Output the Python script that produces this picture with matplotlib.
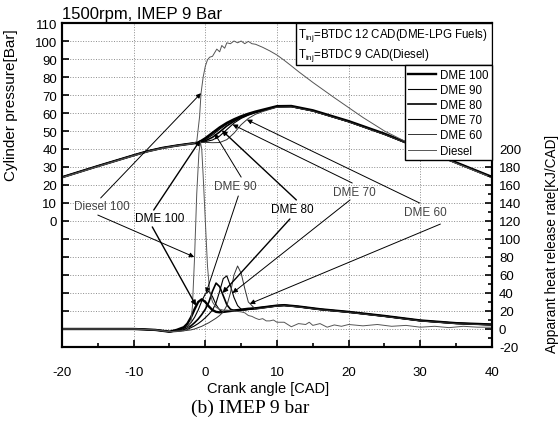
import matplotlib
matplotlib.use("Agg")
import matplotlib.pyplot as plt
from matplotlib.patches import Rectangle
from matplotlib.ticker import FuncFormatter, MultipleLocator

plt.rcParams['font.family'] = ['Liberation Sans', 'DejaVu Sans']
plt.rcParams['mathtext.fontset'] = 'custom'
plt.rcParams['mathtext.rm'] = 'Liberation Sans'
plt.rcParams['axes.unicode_minus'] = False

# ---- cylinder pressure [bar] ----
cad_p = [-20, -15, -10, -8, -6, -4, -2, -1, 0, 1, 2, 3, 4, 5, 6, 7, 8, 10, 12, 15, 20, 25, 30, 35, 40]
p_dme100 = [24.3, 30.5, 36.5, 38.8, 40.6, 41.9, 43.0, 43.5, 46.0, 49.0, 52.0, 54.5, 56.5, 58.2, 59.6, 60.8,
            61.8, 63.8, 63.9, 61.5, 55.5, 48.5, 40.5, 32.5, 24.5]
p_dme90 = [24.3, 30.5, 36.5, 38.8, 40.6, 41.9, 43.0, 43.5, 45.2, 47.8, 51.0, 53.8, 56.0, 57.8, 59.3, 60.5,
           61.5, 63.6, 63.7, 61.3, 55.3, 48.3, 40.4, 32.4, 24.4]
p_dme80 = [24.3, 30.5, 36.5, 38.8, 40.6, 41.9, 43.0, 43.4, 44.6, 46.5, 49.5, 52.8, 55.4, 57.5, 59.1, 60.4,
           61.4, 63.5, 63.6, 61.2, 55.2, 48.2, 40.3, 32.3, 24.3]
p_dme70 = [24.3, 30.5, 36.5, 38.8, 40.6, 41.9, 43.0, 43.4, 44.1, 45.0, 47.2, 50.8, 54.4, 57.0, 58.8, 60.2,
           61.3, 63.4, 63.5, 61.1, 55.1, 48.1, 40.2, 32.2, 24.2]
p_dme60 = [24.3, 30.5, 36.5, 38.8, 40.6, 41.9, 43.0, 43.4, 43.7, 43.5, 43.6, 45.2, 48.8, 53.5, 57.0, 59.3,
           60.8, 63.2, 63.4, 61.0, 55.0, 48.0, 40.1, 32.1, 24.1]

cad_pd = [-20, -15, -10, -8, -6, -4, -2, -1.2, -0.8, -0.6, -0.3, 0, 0.3, 0.6, 1, 1.3, 1.6, 2, 2.3, 2.7,
          3, 3.5, 4, 4.5, 5, 5.5, 6, 6.5, 7, 8, 9, 10, 11, 12, 13, 15, 18, 20, 22, 25, 28, 30, 35, 40]
p_diesel = [24.0, 30.2, 36.2, 38.5, 40.3, 41.7, 42.8, 44.0, 58.0, 71.0, 80.0, 86.0, 89.5, 91.0, 91.5, 93.5,
            95.5, 94.0, 97.5, 96.0, 99.0, 98.5, 100.0, 99.0, 100.0, 98.5, 99.8, 98.5, 98.2, 96.5, 94.5,
            92.2, 89.3, 86.2, 83.0, 77.0, 68.5, 63.0, 57.5, 50.0, 44.0, 40.0, 32.0, 24.0]

# ---- apparent heat release rate [kJ/CAD] ----
cad_h = [-20, -10, -7, -5, -4, -3, -2.5, -2, -1.5, -1, -0.5, 0, 0.5, 1, 1.5, 2, 2.5, 3, 3.5, 4, 4.5,
         5, 5.5, 6, 7, 8, 10, 11, 13, 16, 20, 25, 30, 35, 40]
h_dme100 = [0, 0, -1, -3, -1, 2, 6, 13, 22, 30, 33, 30, 25, 21, 19, 18.5, 19, 19.5, 20, 20.5, 21,
            21.5, 22, 22.5, 23, 24, 26, 26.5, 25, 22, 19, 14.5, 9.5, 6.5, 5]
h_dme90 = [0, 0, -1, -3, -2, 0.5, 3, 7, 13, 21, 31, 39, 42, 36, 27, 21, 19, 19.5, 20, 20.5, 21,
           21.5, 22, 22.5, 23, 24, 26, 26.5, 25, 22, 19, 14.5, 9.5, 6.5, 5]
h_dme80 = [0, 0, -1, -3, -2.5, -1, 1, 3.5, 7, 11, 16, 22, 30, 42, 51, 47, 37, 27, 22, 20.5, 20.5,
           21, 21.5, 22, 23, 24, 25.8, 26.3, 24.8, 21.8, 18.8, 14.3, 9.3, 6.3, 4.8]
h_dme70 = [0, 0, -1, -3, -2.5, -1.5, -0.5, 1.5, 3.5, 6, 9, 12.5, 16.5, 21, 29, 42, 56, 59, 48, 35, 26,
           22, 21, 21.5, 22.5, 23.5, 25.6, 26.1, 24.6, 21.6, 18.6, 14.1, 9.1, 6.1, 4.6]
h_dme60 = [0, 0, -1, -3, -2.5, -2, -1.5, -1, 0, 1.5, 3, 5, 7, 9.5, 12, 15, 19, 26, 40, 60, 70,
           62, 45, 30, 22, 23, 25.4, 25.9, 24.4, 21.4, 18.4, 13.9, 8.9, 5.9, 4.4]

cad_hd = [-20, -10, -7, -5, -4, -3, -2.5, -2, -1.8, -1.5, -1.2, -0.9, -0.7, -0.5, -0.3, 0, 0.3, 0.6, 1,
          1.5, 2, 2.5, 3, 4, 5, 5.5, 6, 6.5, 7, 7.5, 8, 8.5, 9, 9.5, 10, 11, 11.5, 12, 13, 14, 14.5,
          15, 16, 17, 18, 19, 20, 22, 24, 26, 28, 30, 32, 34, 36, 38, 40]
h_diesel = [0, 0, -1, -3, -2.5, -2, 0, 8, 25, 80, 150, 195, 208, 200, 170, 120, 70, 42, 30,
            24, 22, 21, 21, 20, 19, 18, 15, 14, 12, 10.5, 11.5, 9, 9, 10, 7.5, 7.5, 5, 2.5, 6, 5, 7.5,
            4, 6, 2, 4.5, 3, 5, 3.5, 5, 3, 4, 2, 3, 1.5, 3, 2, 2]

fuel_labels = ['DME 100', 'DME 90', 'DME 80', 'DME 70', 'DME 60', 'Diesel']
p_series = [p_dme100, p_dme90, p_dme80, p_dme70, p_dme60]
h_series = [h_dme100, h_dme90, h_dme80, h_dme70, h_dme60]
styles = [('black', 1.7), ('black', 0.8), ('black', 1.2), ('black', 0.8), ('#333333', 0.7)]

fig = plt.figure(figsize=(5.58, 4.31), dpi=100)
ax = fig.add_axes([0.1111, 0.1926, 0.7706, 0.7517])
ax2 = ax.twinx()

handles = []
for p, h, lab, (c, lw) in zip(p_series, h_series, fuel_labels, styles):
    ln, = ax.plot(cad_p, p, color=c, lw=lw, label=lab)
    ax2.plot(cad_h, h, color=c, lw=lw)
    handles.append(ln)
ln, = ax.plot(cad_pd, p_diesel, color='#555555', lw=0.7, label='Diesel')
ax2.plot(cad_hd, h_diesel, color='#555555', lw=0.7)
handles.append(ln)

# axes setup
ax.set_xlim(-20, 40)
ax.set_ylim(-70, 110)
ax2.set_ylim(-20, 340)
ax.xaxis.set_major_locator(MultipleLocator(10))
ax.xaxis.set_minor_locator(MultipleLocator(5))
ax.yaxis.set_major_locator(MultipleLocator(10))
ax.yaxis.set_major_formatter(FuncFormatter(lambda v, p: '%d' % v if v >= 0 else ''))
ax2.yaxis.set_major_locator(MultipleLocator(20))
ax2.yaxis.set_minor_locator(MultipleLocator(10))
ax2.yaxis.set_major_formatter(FuncFormatter(lambda v, p: '%d' % v if v <= 200 else ''))

for a in (ax, ax2):
    a.tick_params(which='both', direction='in', width=1.2, labelsize=9.5)
    a.tick_params(which='major', length=5)
    a.tick_params(which='minor', length=3)
    for s in a.spines.values():
        s.set_linewidth(1.5)
ax.tick_params(axis='x', pad=14)
ax2.tick_params(axis='y', pad=5)
ax.grid(True, which='major', ls=':', color='0.55', lw=0.7)

ax.set_xlabel('Crank angle [CAD]', fontsize=10.5)
ax.xaxis.set_label_coords(0.479, -0.105)
ax.set_ylabel('Cylinder pressure[Bar]', fontsize=11)
ax.yaxis.set_label_coords(-0.102, 0.75)
ax2.set_ylabel('Apparant heat release rate[KJ/CAD]', fontsize=9.8)
ax2.yaxis.set_label_coords(1.123, 0.321)
ax.text(0.0, 1.006, '1500rpm, IMEP 9 Bar', transform=ax.transAxes, fontsize=12, va='bottom', ha='left')

# injection timing box
ax2.add_patch(Rectangle((0.544, 0.870), 0.456, 0.130, transform=ax2.transAxes,
                        facecolor='white', edgecolor='black', lw=1.0, zorder=5))
ax2.text(0.549, 0.966, r'T$_{\mathrm{inj}}$=BTDC 12 CAD(DME-LPG Fuels)', transform=ax2.transAxes,
         fontsize=8.3, va='center', ha='left', zorder=6)
ax2.text(0.549, 0.903, r'T$_{\mathrm{inj}}$=BTDC 9 CAD(Diesel)', transform=ax2.transAxes,
         fontsize=8.3, va='center', ha='left', zorder=6)

leg = ax2.legend(handles, fuel_labels, loc='upper right', bbox_to_anchor=(1.0, 0.870),
                 borderaxespad=0, fancybox=False, edgecolor='black', framealpha=1,
                 fontsize=8.3, handlelength=2.4, labelspacing=0.28, borderpad=0.3,
                 handletextpad=0.35)
leg.get_frame().set_linewidth(1.0)
leg.set_zorder(7)

# annotations: label text position, then arrows (start, target, target axis)
notes = [
    ('Diesel 100', (-14.4, 8.1), '#444444', 0.7,
     [((-14.6, 12.8), (-0.6, 71), ax), ((-15.0, 3.3), (-1.55, 80), ax2)]),
    ('DME 100', (-6.4, 1.7), 'black', 1.0,
     [((-7.2, 6.1), (-0.7, 45.0), ax), ((-7.4, -3.3), (-1.3, 26), ax2)]),
    ('DME 90', (4.2, 19.4), '#444444', 0.7,
     [((5.0, 24.4), (1.3, 48.6), ax), ((4.6, 13.9), (0.1, 40), ax2)]),
    ('DME 80', (12.1, 6.7), 'black', 1.0,
     [((12.7, 11.7), (2.3, 50.4), ax), ((11.8, 1.1), (2.4, 40), ax2)]),
    ('DME 70', (20.8, 16.1), '#444444', 0.7,
     [((20.5, 21.1), (3.8, 53.6), ax), ((20.2, 11.7), (3.8, 40), ax2)]),
    ('DME 60', (30.7, 5.0), '#444444', 0.7,
     [((29.9, 10.0), (5.8, 56.3), ax), ((32.8, -1.7), (6.2, 28), ax2)]),
]
for txt, pos, col, lw, arrows in notes:
    ax2.text(pos[0], pos[1], txt, transform=ax.transData, fontsize=8.5, color=col,
             ha='center', va='center', zorder=8)
    for start, target, tax in arrows:
        ax2.annotate('', xy=target, xycoords=tax.transData, xytext=start, textcoords=ax.transData,
                     arrowprops=dict(arrowstyle='-|>', color='black', lw=lw,
                                     mutation_scale=7, shrinkA=0, shrinkB=0), zorder=8)

fig.text(0.448, 0.053, '(b) IMEP 9 bar', family='Liberation Serif', fontsize=14, ha='center', va='center')

fig.savefig('out.png', dpi=100)
